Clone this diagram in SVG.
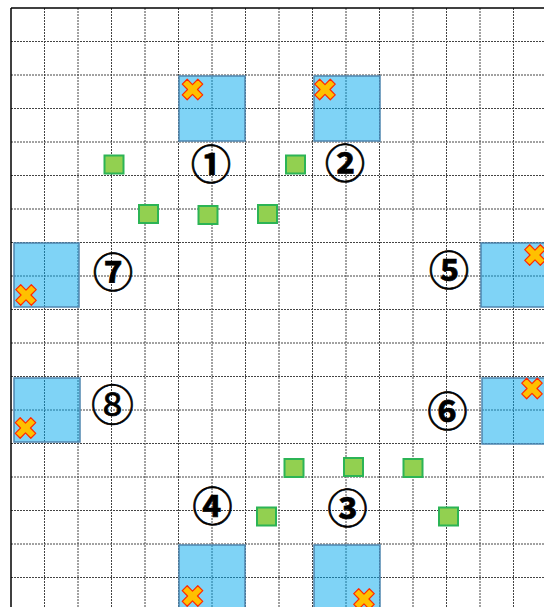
<svg xmlns="http://www.w3.org/2000/svg" width="544" height="607" viewBox="0 0 544 607">
<defs>
<style>
.grid line{stroke:#444;stroke-width:1;stroke-dasharray:2,1}
.border{stroke:#000;stroke-width:1.5}
.box{fill:#00a8ee;fill-opacity:0.5;stroke:#4f86b0;stroke-width:1.5}
.gsq{fill:#92d050;stroke:#2cb455;stroke-width:2}
.num{font-family:"Noto Sans CJK JP","DejaVu Sans",sans-serif;font-size:40px;font-weight:bold;fill:#000;stroke:#000;stroke-width:0.7;text-anchor:middle;dominant-baseline:central}
</style>
<path id="xm" d="M-3.5,-11 L3.5,-11 L3.5,-3.5 L11,-3.5 L11,3.5 L3.5,3.5 L3.5,11 L-3.5,11 L-3.5,3.5 L-11,3.5 L-11,-3.5 L-3.5,-3.5 Z" transform="rotate(45)" fill="#ffc000" stroke="#ff2a00" stroke-width="1.2" stroke-linejoin="round"/>
<rect id="gs" x="-9.5" y="-9" width="19" height="18" class="gsq"/>
</defs>
<rect width="544" height="607" fill="#fff"/>
<g class="grid">
<line x1="44.5" y1="8" x2="44.5" y2="607"/><line x1="78" y1="8" x2="78" y2="607"/><line x1="111.5" y1="8" x2="111.5" y2="607"/><line x1="145" y1="8" x2="145" y2="607"/><line x1="178.5" y1="8" x2="178.5" y2="607"/><line x1="212" y1="8" x2="212" y2="607"/><line x1="245.5" y1="8" x2="245.5" y2="607"/><line x1="279" y1="8" x2="279" y2="607"/><line x1="312.5" y1="8" x2="312.5" y2="607"/><line x1="346" y1="8" x2="346" y2="607"/><line x1="379.5" y1="8" x2="379.5" y2="607"/><line x1="413" y1="8" x2="413" y2="607"/><line x1="446.5" y1="8" x2="446.5" y2="607"/><line x1="480" y1="8" x2="480" y2="607"/><line x1="513.5" y1="8" x2="513.5" y2="607"/>
<line x1="11" y1="41.5" x2="544" y2="41.5"/><line x1="11" y1="75" x2="544" y2="75"/><line x1="11" y1="108.5" x2="544" y2="108.5"/><line x1="11" y1="142" x2="544" y2="142"/><line x1="11" y1="175.5" x2="544" y2="175.5"/><line x1="11" y1="209" x2="544" y2="209"/><line x1="11" y1="242.5" x2="544" y2="242.5"/><line x1="11" y1="276" x2="544" y2="276"/><line x1="11" y1="309.5" x2="544" y2="309.5"/><line x1="11" y1="343" x2="544" y2="343"/><line x1="11" y1="376.5" x2="544" y2="376.5"/><line x1="11" y1="410" x2="544" y2="410"/><line x1="11" y1="443.5" x2="544" y2="443.5"/><line x1="11" y1="477" x2="544" y2="477"/><line x1="11" y1="510.5" x2="544" y2="510.5"/><line x1="11" y1="544" x2="544" y2="544"/><line x1="11" y1="577.5" x2="544" y2="577.5"/>
</g>
<line class="border" x1="11" y1="8" x2="544" y2="8"/>
<line class="border" x1="11" y1="8" x2="11" y2="607"/>
<g id="area1"><rect class="box" x="179" y="76" width="66" height="65"/><use href="#xm" x="192.5" y="89.5"/><text class="num" x="211" y="162">①</text></g>
<g id="area2"><rect class="box" x="314" y="76" width="66" height="65"/><use href="#xm" x="325" y="89.5"/><text class="num" x="345" y="161">②</text></g>
<g id="area7"><rect class="box" x="14" y="243" width="65" height="64"/><use href="#xm" x="26" y="295"/><text class="num" x="113" y="270">⑦</text></g>
<g id="area5"><rect class="box" x="481" y="243" width="70" height="64"/><use href="#xm" x="535" y="255"/><text class="num" x="449" y="268">⑤</text></g>
<g id="area8"><rect class="box" x="14" y="378" width="66" height="64"/><use href="#xm" x="25.5" y="428"/><text class="num" x="112.5" y="406" style="font-family:'DejaVu Serif','Noto Sans CJK JP',serif;font-weight:normal;font-size:43px">⑧</text></g>
<g id="area6"><rect class="box" x="482" y="378" width="70" height="66"/><use href="#xm" x="532" y="388.5"/><text class="num" x="447.5" y="409">⑥</text></g>
<g id="area4"><rect class="box" x="179" y="545" width="66" height="70"/><use href="#xm" x="192.5" y="596"/><text class="num" x="212.5" y="504">④</text></g>
<g id="area3"><rect class="box" x="314" y="545" width="66" height="70"/><use href="#xm" x="364" y="599"/><text class="num" x="347.5" y="506">③</text></g>
<g id="markers">
<use href="#gs" x="114" y="164.5"/><use href="#gs" x="148.5" y="214"/><use href="#gs" x="208" y="215"/><use href="#gs" x="267.5" y="214"/><use href="#gs" x="295.5" y="164.5"/>
<use href="#gs" x="294" y="468"/><use href="#gs" x="353.5" y="467"/><use href="#gs" x="413" y="468"/><use href="#gs" x="266.5" y="516.5"/><use href="#gs" x="448.5" y="516.5"/>
</g>
<g id="connectors"/>
</svg>
